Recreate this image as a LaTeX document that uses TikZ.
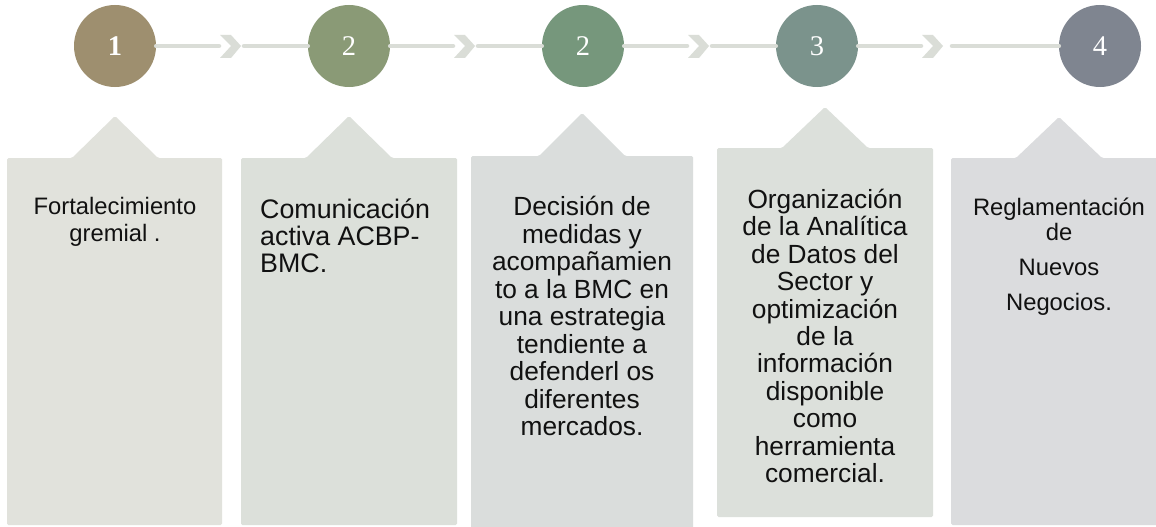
\documentclass[tikz,border=0pt]{standalone}
\usepackage{fontspec}
\setmainfont{Liberation Sans}
\newfontfamily\numfont{Liberation Serif}
\usetikzlibrary{positioning}

\definecolor{stepA}{HTML}{9E8F6F}
\definecolor{stepB}{HTML}{8A9A76}
\definecolor{stepC}{HTML}{76977C}
\definecolor{stepD}{HTML}{7B938C}
\definecolor{stepE}{HTML}{7F8590}
\definecolor{boxA}{HTML}{E1E2DC}
\definecolor{boxB}{HTML}{DCE0DA}
\definecolor{boxC}{HTML}{DADDDC}
\definecolor{boxD}{HTML}{DCE0DB}
\definecolor{boxE}{HTML}{DBDCDE}
\definecolor{linkgray}{HTML}{DADDD7}
\definecolor{textblack}{HTML}{111111}

\tikzset{
  stepnum/.style={circle, minimum size=82pt, inner sep=0pt, text=white,
    font=\numfont\fontsize{28.5}{28.5}\selectfont},
  link/.style={line width=4.5pt, draw=linkgray, line cap=round},
  boxtext/.style={inner sep=0pt, align=center, text=textblack},
  chevron/.pic={\fill[linkgray] (-21,-11) -- (-10,-11) -- (0,0) -- (-10,12) -- (-21,12) -- (-10,0) -- cycle;},
}

\begin{document}
\begin{tikzpicture}[x=1pt,y=-1pt]
\clip (0,0) rectangle (1156,527);
\fill[white] (0,0) rectangle (1156,527);

% boxes with tabs
\fill[boxA, rounded corners=1.5pt] (7,158) -- (72,158) -- (115,116) -- (158,158) -- (222,158) -- (222,525) -- (7,525) -- cycle;
\fill[boxB, rounded corners=1.5pt] (241,158) -- (306,158) -- (349,116) -- (392,158) -- (457,158) -- (457,525) -- (241,525) -- cycle;
\fill[boxC, rounded corners=1.5pt] (471,156) -- (539,156) -- (582,113) -- (625,156) -- (693,156) -- (693,530) -- (471,530) -- cycle;
\fill[boxD, rounded corners=1.5pt] (717,148) -- (782,148) -- (825,107) -- (868,148) -- (933,148) -- (933,517) -- (717,517) -- cycle;
\fill[boxE, rounded corners=1.5pt] (951,158) -- (1016,158) -- (1059,117) -- (1102,158) -- (1167,158) -- (1167,525) -- (951,525) -- cycle;

% steps
\node[stepnum, fill=stepA] (c1) at (115,46) {\textbf{1}};
\node[stepnum, fill=stepB] (c2) at (349,46) {2};
\node[stepnum, fill=stepC] (c3) at (583,46) {2};
\node[stepnum, fill=stepD] (c4) at (817,46) {3};
\node[stepnum, fill=stepE] (c5) at (1100,46) {4};

% links
\coordinate (k1a) at (219,46); \coordinate (k1b) at (244,46);
\coordinate (k2a) at (453,46); \coordinate (k2b) at (478,46);
\coordinate (k3a) at (687,46); \coordinate (k3b) at (712,46);
\coordinate (k4a) at (921,46); \coordinate (k4b) at (952,46);
\draw[link] (c1) -- (k1a); \draw[link] (k1b) -- (c2);
\draw[link] (c2) -- (k2a); \draw[link] (k2b) -- (c3);
\draw[link] (c3) -- (k3a); \draw[link] (k3b) -- (c4);
\draw[link] (c4) -- (k4a); \draw[link] (k4b) -- (c5);
\pic at (241,46) {chevron};
\pic at (475,46) {chevron};
\pic at (709,46) {chevron};
\pic at (943,46) {chevron};

% texts
\node[boxtext, anchor=north, font=\fontsize{23.8}{27}\selectfont] (t1) at (115,197.5) {Fortalecimiento\\gremial .};
\node[boxtext, align=left, anchor=north west, font=\fontsize{26.8}{27}\selectfont] (t2) at (260,198.5) {Comunicación\\activa ACBP-\\BMC.};
\node[boxtext, anchor=north, font=\fontsize{26.3}{27.5}\selectfont] (t3) at (582,196) {Decisión de\\medidas y\\acompañamien\\to a la BMC en\\una estrategia\\tendiente a\\defenderl os\\diferentes\\mercados.};
\node[boxtext, anchor=north, font=\fontsize{26.3}{27.4}\selectfont] (t4) at (825,189) {Organización\\de la Analítica\\de Datos del\\Sector y\\optimización\\de la\\información\\disponible\\como\\herramienta\\comercial.};
\node[boxtext, anchor=north, font=\fontsize{23.8}{25}\selectfont] (t5) at (1059,197.6) {Reglamentación\\de\\[10pt]Nuevos\\[10pt]Negocios.};
\end{tikzpicture}
\end{document}
